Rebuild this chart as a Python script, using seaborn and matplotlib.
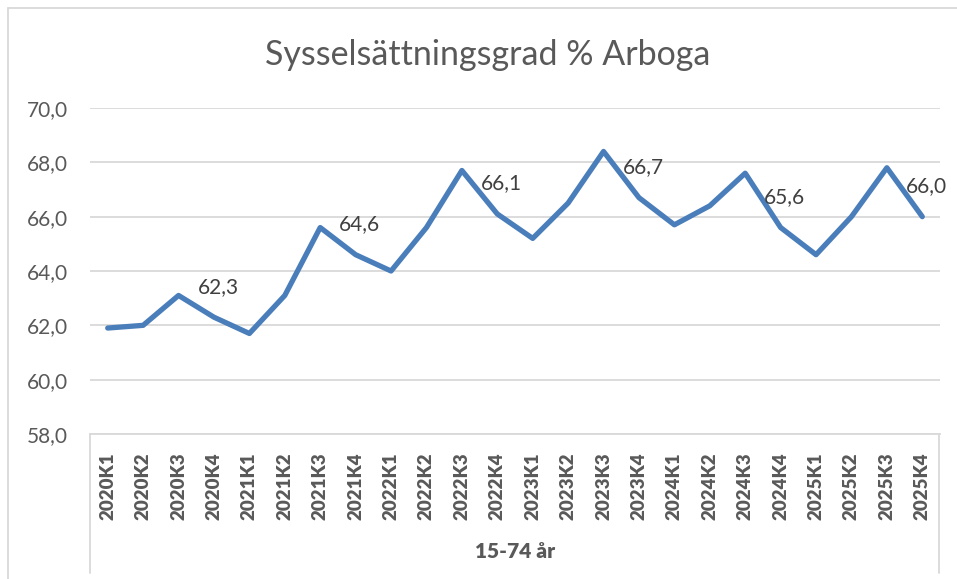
import pandas as pd
import matplotlib
matplotlib.use('Agg')
import matplotlib.pyplot as plt
import seaborn as sns
from matplotlib.lines import Line2D

quarters = ['2020K1', '2020K2', '2020K3', '2020K4',
            '2021K1', '2021K2', '2021K3', '2021K4',
            '2022K1', '2022K2', '2022K3', '2022K4',
            '2023K1', '2023K2', '2023K3', '2023K4',
            '2024K1', '2024K2', '2024K3', '2024K4',
            '2025K1', '2025K2', '2025K3', '2025K4']
rate = [61.9, 62.0, 63.1, 62.3,
        61.7, 63.1, 65.6, 64.6,
        64.0, 65.6, 67.7, 66.1,
        65.2, 66.5, 68.4, 66.7,
        65.7, 66.4, 67.6, 65.6,
        64.6, 66.0, 67.8, 66.0]
yticks = [58, 60, 62, 64, 66, 68, 70]
group_label = '15-74 år'
title = 'Sysselsättningsgrad % Arboga'

df = pd.DataFrame({'kvartal': quarters, 'grad': rate})

sns.set_style('white')
plt.rcParams['font.family'] = ['Lato', 'DejaVu Sans']

W, H = 957, 579
fig = plt.figure(figsize=(W / 100, H / 100), dpi=100)
ax = fig.add_axes([90 / W, 1 - 434 / H, 850 / W, 326 / H])

sns.lineplot(data=df, x='kvartal', y='grad', color='#4a7ebb', linewidth=3.8,
             sort=False, ax=ax, solid_joinstyle='round', solid_capstyle='round')

ax.set_xlim(-0.5, len(quarters) - 0.5)
ax.set_ylim(58, 70)
ax.set_yticks(yticks)
ax.set_yticklabels([f'{v:.1f}'.replace('.', ',') for v in yticks],
                   fontsize=15, color='#595959')
ax.set_xticks(range(len(quarters)))
ax.set_xticklabels(quarters, rotation=90, fontsize=13.5, fontweight='heavy',
                   color='#595959')
ax.tick_params(axis='both', length=0)
ax.tick_params(axis='y', pad=16)
ax.tick_params(axis='x', pad=13)
ax.yaxis.grid(True, color='#d9d9d9', linewidth=1.3)
ax.set_axisbelow(True)
for side in ['left', 'right', 'top']:
    ax.spines[side].set_visible(False)
ax.spines['bottom'].set_color('#d9d9d9')
ax.spines['bottom'].set_linewidth(1.3)
ax.set_xlabel('')
ax.set_ylabel('')

# data labels on every fourth quarter
for i, (q, v) in enumerate(zip(quarters, rate)):
    if q.endswith('K4'):
        ax.annotate(f'{v:.1f}'.replace('.', ','), (i, v), xytext=(3, 22),
                    textcoords='offset points', ha='center', va='center',
                    fontsize=15, color='#404040')

# category group box below the axis
fig.add_artist(Line2D([90 / W, 90 / W], [1 - 434 / H, 1 - 573 / H],
                      color='#d9d9d9', linewidth=1.3))
fig.add_artist(Line2D([939 / W, 939 / W], [1 - 434 / H, 1 - 573 / H],
                      color='#d9d9d9', linewidth=1.3))
fig.text(515 / W, 1 - 552 / H, group_label, ha='center', va='center',
         fontsize=15, fontweight='heavy', color='#595959')

# chart area frame
fig.add_artist(Line2D([8 / W, 8 / W], [0, 1 - 8 / H], color='#d9d9d9', linewidth=1.3))
fig.add_artist(Line2D([8 / W, 1], [1 - 8 / H, 1 - 8 / H], color='#d9d9d9', linewidth=1.3))

fig.text(488 / W, 1 - 55 / H, title, ha='center', va='center',
         fontsize=24.5, color='#595959')

fig.savefig('out.png', dpi=100)
